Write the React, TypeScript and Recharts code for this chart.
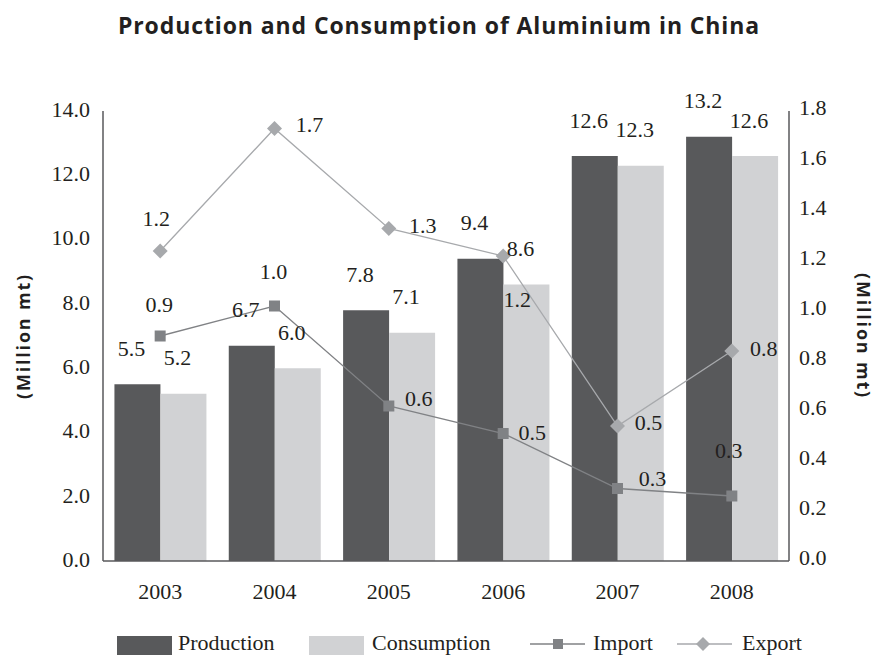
import React from "react";
import { Bar, ComposedChart, LabelList, Line, XAxis, YAxis } from "recharts";

const YEARS = ["2003", "2004", "2005", "2006", "2007", "2008"];
const PRODUCTION = [5.5, 6.7, 7.8, 9.4, 12.6, 13.2];
const CONSUMPTION = [5.2, 6.0, 7.1, 8.6, 12.3, 12.6];
const IMPORT = [0.9, 1.02, 0.62, 0.51, 0.29, 0.26];
const EXPORT = [1.24, 1.73, 1.33, 1.22, 0.54, 0.84];

const LEFT_TICKS = [0, 2, 4, 6, 8, 10, 12, 14];
const RIGHT_TICKS = [0, 0.2, 0.4, 0.6, 0.8, 1.0, 1.2, 1.4, 1.6, 1.8];

// label nudges (dx, dy) from each line point, so they don't collide with the bars
const IMPORT_LABEL_OFFSETS = [[-1, -32], [-1, -35], [30, -8], [29, -1], [35, -10], [-3, -46]];
const EXPORT_LABEL_OFFSETS = [[-4, -33], [35, -4], [34, -3], [14, 43], [31, -4], [32, -3]];

const DARK = "#58595b";
const LIGHT = "#d1d2d4";
const IMPORT_COLOR = "#808285";
const EXPORT_COLOR = "#a7a9ac";
const TEXT = "#231f20";
const SERIF = "'Liberation Serif', 'DejaVu Serif', serif";
const SANS = "'Open Sans', 'Noto Sans', sans-serif";

const data = YEARS.map((year, i) => ({
  year,
  production: PRODUCTION[i],
  consumption: CONSUMPTION[i],
  import: IMPORT[i],
  export: EXPORT[i],
}));

const fmt = (v: number) => Number(v).toFixed(1);

function BarValue(props: any) {
  const { x, y, width, value } = props;
  return (
    <text x={x + width / 2 - 6} y={y - 36} textAnchor="middle" dominantBaseline="central"
      fontFamily={SERIF} fontSize={22} fill={TEXT}>
      {fmt(value)}
    </text>
  );
}

function pointLabel(offsets: number[][]) {
  return (props: any) => {
    const vb = props.viewBox || {};
    const x = props.x ?? vb.x;
    const y = props.y ?? vb.y;
    const [dx, dy] = offsets[props.index] || [0, -20];
    return (
      <text x={x + dx} y={y + dy} textAnchor="middle" dominantBaseline="central"
        fontFamily={SERIF} fontSize={22} fill={TEXT}>
        {fmt(props.value)}
      </text>
    );
  };
}

function SquareDot(props: any) {
  const { cx, cy, index } = props;
  return <rect key={`sq-${index}`} x={cx - 5.5} y={cy - 5.5} width={11} height={11} fill={IMPORT_COLOR} />;
}

function DiamondDot(props: any) {
  const { cx, cy, index } = props;
  const r = 7.5;
  return (
    <polygon key={`dm-${index}`} points={`${cx},${cy - r} ${cx + r},${cy} ${cx},${cy + r} ${cx - r},${cy}`}
      fill={EXPORT_COLOR} />
  );
}

const tickStyle = { fontFamily: SERIF, fontSize: 22, fill: TEXT };
const axisTitleStyle = {
  fontFamily: SANS, fontWeight: 700, fontSize: 18, letterSpacing: 1.8, fill: TEXT, textAnchor: "middle",
};

function LegendRow() {
  const label = { position: "absolute" as const, top: 632, fontFamily: SERIF, fontSize: 22, color: TEXT, lineHeight: "21px" };
  return (
    <>
      <div style={{ position: "absolute", left: 117, top: 636, width: 55, height: 19, background: DARK }} />
      <div style={{ ...label, left: 178 }}>Production</div>
      <div style={{ position: "absolute", left: 309, top: 636, width: 55, height: 19, background: LIGHT }} />
      <div style={{ ...label, left: 372 }}>Consumption</div>
      <svg style={{ position: "absolute", left: 530, top: 634 }} width={56} height={20}>
        <line x1={0} y1={10} x2={55} y2={10} stroke={IMPORT_COLOR} strokeWidth={1.3} />
        <rect x={23} y={5} width={10} height={10} fill={IMPORT_COLOR} />
      </svg>
      <div style={{ ...label, left: 593 }}>Import</div>
      <svg style={{ position: "absolute", left: 677, top: 634 }} width={56} height={20}>
        <line x1={0} y1={10} x2={55} y2={10} stroke={EXPORT_COLOR} strokeWidth={1.3} />
        <polygon points="26,3 33,10 26,17 19,10" fill={EXPORT_COLOR} />
      </svg>
      <div style={{ ...label, left: 742 }}>Export</div>
    </>
  );
}

export default function App() {
  return (
    <div style={{ position: "absolute", left: 0, top: 0, width: 878, height: 655, background: "#fff", overflow: "hidden" }}>
      <div style={{
        position: "absolute", left: 0, top: 9, width: 878, textAlign: "center",
        fontFamily: SANS, fontWeight: 700, fontSize: 23, letterSpacing: 0.9, color: TEXT,
      }}>
        Production and Consumption of Aluminium in China
      </div>
      <ComposedChart width={878} height={655} data={data}
        margin={{ top: 111, right: 0, bottom: 0, left: 0 }}
        barCategoryGap="10%" barGap={0}>
        <XAxis dataKey="year" height={94} tickLine={false} tickMargin={16}
          axisLine={{ stroke: DARK, strokeWidth: 1.5 }} tick={tickStyle} />
        <YAxis yAxisId="left" width={103} domain={[0, 14]} ticks={LEFT_TICKS} interval={0}
          tickFormatter={fmt} tickLine={false} tickMargin={7} dy={-2}
          axisLine={{ stroke: DARK, strokeWidth: 1.5 }} tick={tickStyle}
          label={{ value: "(Million mt)", angle: -90, position: "insideLeft", offset: 24, style: axisTitleStyle }} />
        <YAxis yAxisId="right" orientation="right" width={89} domain={[0, 1.8]} ticks={RIGHT_TICKS} interval={0}
          tickFormatter={fmt} tickLine={false} tickMargin={4} dy={-4}
          axisLine={{ stroke: DARK, strokeWidth: 1.5 }} tick={tickStyle}
          label={{ value: "(Million mt)", angle: 90, position: "insideRight", offset: 15, style: axisTitleStyle }} />
        <Bar yAxisId="left" dataKey="production" fill={DARK} isAnimationActive={false}>
          <LabelList dataKey="production" content={BarValue} />
        </Bar>
        <Bar yAxisId="left" dataKey="consumption" fill={LIGHT} isAnimationActive={false}>
          <LabelList dataKey="consumption" content={BarValue} />
        </Bar>
        <Line yAxisId="right" dataKey="import" stroke={IMPORT_COLOR} strokeWidth={1.3}
          dot={SquareDot} activeDot={false} isAnimationActive={false}>
          <LabelList dataKey="import" content={pointLabel(IMPORT_LABEL_OFFSETS)} />
        </Line>
        <Line yAxisId="right" dataKey="export" stroke={EXPORT_COLOR} strokeWidth={1.3}
          dot={DiamondDot} activeDot={false} isAnimationActive={false}>
          <LabelList dataKey="export" content={pointLabel(EXPORT_LABEL_OFFSETS)} />
        </Line>
      </ComposedChart>
      <LegendRow />
    </div>
  );
}
